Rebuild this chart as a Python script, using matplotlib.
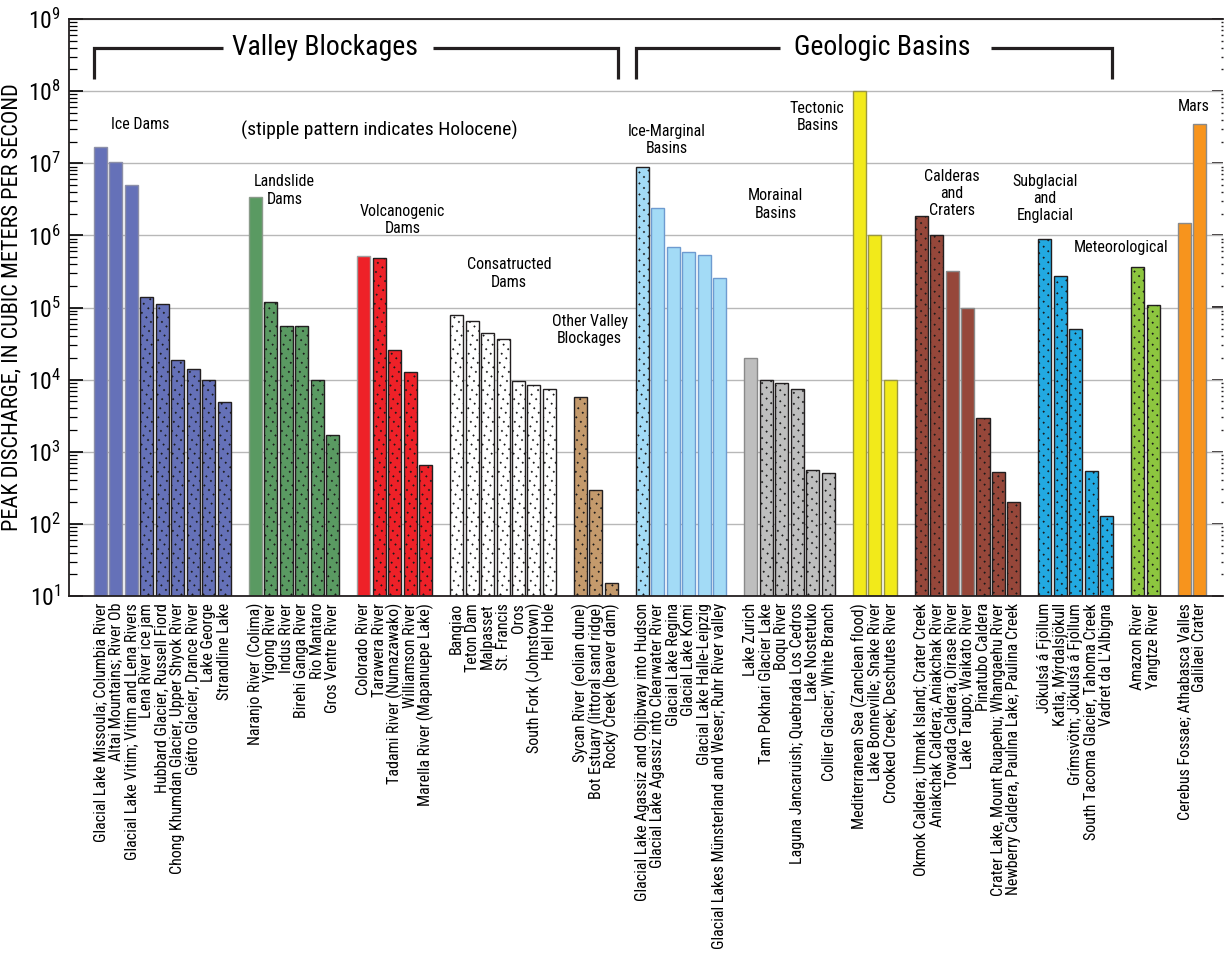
import numpy as np
import matplotlib.pyplot as plt
from matplotlib import font_manager
from matplotlib.collections import LineCollection
from matplotlib.ticker import FixedLocator, FuncFormatter, LogLocator, NullFormatter

# prefer a condensed sans; scale the sizes down if only a normal-width face exists
installed = {f.name for f in font_manager.fontManager.ttflist}
narrow = [n for n in ['Liberation Sans Narrow', 'Roboto Condensed', 'DejaVu Sans Condensed',
                      'Open Sans Condensed', 'Noto Sans Condensed'] if n in installed]
if narrow:
    family, fs = narrow[0], 1.0
else:
    family, fs = 'Liberation Sans', 0.84
plt.rcParams['font.family'] = [family, 'DejaVu Sans']
plt.rcParams['mathtext.fontset'] = 'custom'
plt.rcParams['mathtext.rm'] = family

###
### Data: peak discharge (m3/s), grouped by type of lake / flood source
### stipple flag = Holocene event
###
ice_labels = ["Glacial Lake Missoula; Columbia River", "Altai Mountains; River Ob",
              "Glacial Lake Vitim; Vitim and Lena Rivers", "Lena River ice jam",
              "Hubbard Glacier, Russell Fiord", "Chong Khumdan Glacier, Upper Shyok River",
              "Giétro Glacier, Drance River", "Lake George", "Strandline Lake"]
ice_values = [1.7e7, 1.05e7, 5.0e6, 1.4e5, 1.13e5, 1.9e4, 1.4e4, 1.0e4, 4.9e3]
ice_stipple = [0, 0, 0, 1, 1, 1, 1, 1, 1]

landslide_labels = ["Naranjo River (Colima)", "Yigong River", "Indus River",
                    "Birehi Ganga River", "Rio Mantaro", "Gros Ventre River"]
landslide_values = [3.4e6, 1.18e5, 5.5e4, 5.5e4, 1.0e4, 1.7e3]
landslide_stipple = [0, 1, 1, 1, 1, 1]

volcanic_labels = ["Colorado River", "Tarawera River", "Tadami River (Numazawako)",
                   "Williamson River", "Marella River (Mapanuepe Lake)"]
volcanic_values = [5.2e5, 4.8e5, 2.6e4, 1.27e4, 6.5e2]
volcanic_stipple = [0, 1, 1, 1, 1]

constructed_labels = ["Banqiao", "Teton Dam", "Malpasset", "St. Francis", "Oros",
                      "South Fork (Johnstown)", "Hell Hole"]
constructed_values = [7.8e4, 6.5e4, 4.4e4, 3.7e4, 9.6e3, 8.5e3, 7.4e3]
constructed_stipple = [1, 1, 1, 1, 1, 1, 1]

other_labels = ["Sycan River (eolian dune)", "Bot Estuary (littoral sand ridge)",
                "Rocky Creek (beaver dam)"]
other_values = [5.8e3, 2.95e2, 15]
other_stipple = [1, 1, 1]

marginal_labels = ["Glacial Lake Agassiz and Objibway into Hudson",
                   "Glacial Lake Agassiz into Clearwater River", "Glacial Lake Regina",
                   "Glacial Lake Komi", "Glacial Lake Halle-Leipzig",
                   "Glacial Lakes Münsterland and Weser; Ruhr River valley"]
marginal_values = [8.9e6, 2.4e6, 6.9e5, 5.9e5, 5.4e5, 2.6e5]
marginal_stipple = [1, 0, 0, 0, 0, 0]

morainal_labels = ["Lake Zurich", "Tam Pokhari Glacier Lake", "Boqu River",
                   "Laguna Jancaruish; Quebrada Los Cedros", "Lake Nostetuko",
                   "Collier Glacier; White Branch"]
morainal_values = [2.0e4, 1.0e4, 9.0e3, 7.4e3, 5.6e2, 5.0e2]
morainal_stipple = [0, 1, 1, 1, 1, 1]

tectonic_labels = ["Mediterranean Sea (Zanclean flood)", "Lake Bonneville; Snake River",
                   "Crooked Creek; Deschutes River"]
tectonic_values = [1.0e8, 1.0e6, 1.0e4]
tectonic_stipple = [0, 0, 0]

caldera_labels = ["Okmok Caldera; Umnak Island; Crater Creek",
                  "Aniakchak Caldera; Aniakchak River", "Towada Caldera; Oirase River",
                  "Lake Taupo; Waikato River", "Pinatubo Caldera",
                  "Crater Lake, Mount Ruapehu; Whangaehu River",
                  "Newberry Caldera, Paulina Lake; Paulina Creek"]
caldera_values = [1.87e6, 1.0e6, 3.2e5, 1.0e5, 2.9e3, 5.2e2, 2.0e2]
caldera_stipple = [1, 1, 0, 0, 1, 1, 1]

subglacial_labels = ["Jökulsá á Fjöllum", "Katla; Mýrdalsjökull",
                     "Grímsvötn; Jökulsá á Fjöllum", "South Tacoma Glacier, Tahoma Creek",
                     "Vadret da L'Albigna"]
subglacial_values = [8.9e5, 2.75e5, 5.1e4, 5.4e2, 1.27e2]
subglacial_stipple = [1, 1, 1, 1, 1]

meteo_labels = ["Amazon River", "Yangtze River"]
meteo_values = [3.6e5, 1.07e5]
meteo_stipple = [1, 1]

mars_labels = ["Cerebus Fossae; Athabasca Valles", "Galilaei Crater"]
mars_values = [1.48e6, 3.5e7]
mars_stipple = [0, 0]

groups = [
    {'labels': ice_labels, 'values': ice_values, 'stipple': ice_stipple,
     'color': '#6571B8', 'edge': '#8c8fa8'},
    {'labels': landslide_labels, 'values': landslide_values, 'stipple': landslide_stipple,
     'color': '#5A9A62', 'edge': '#8a9a8a'},
    {'labels': volcanic_labels, 'values': volcanic_values, 'stipple': volcanic_stipple,
     'color': '#EE2128', 'edge': '#a0a0a0'},
    {'labels': constructed_labels, 'values': constructed_values, 'stipple': constructed_stipple,
     'color': 'white', 'edge': '#555555'},
    {'labels': other_labels, 'values': other_values, 'stipple': other_stipple,
     'color': '#C49A6C', 'edge': '#8a7a6a'},
    {'labels': marginal_labels, 'values': marginal_values, 'stipple': marginal_stipple,
     'color': '#A3DBF6', 'edge': '#6E9BD0'},
    {'labels': morainal_labels, 'values': morainal_values, 'stipple': morainal_stipple,
     'color': '#BEBEBE', 'edge': '#8a8a8a'},
    {'labels': tectonic_labels, 'values': tectonic_values, 'stipple': tectonic_stipple,
     'color': '#F2EA1A', 'edge': '#9a9640'},
    {'labels': caldera_labels, 'values': caldera_values, 'stipple': caldera_stipple,
     'color': '#96473A', 'edge': '#8a8a8a'},
    {'labels': subglacial_labels, 'values': subglacial_values, 'stipple': subglacial_stipple,
     'color': '#22A9E1', 'edge': '#8a8a8a'},
    {'labels': meteo_labels, 'values': meteo_values, 'stipple': meteo_stipple,
     'color': '#8DC63F', 'edge': '#8a8a8a'},
    {'labels': mars_labels, 'values': mars_values, 'stipple': mars_stipple,
     'color': '#F7941D', 'edge': '#8a8a8a'},
]

###
### Figure
###
W, H = 1225, 963
fig = plt.figure(figsize=(W / 100, H / 100), dpi=100)
ax = fig.add_axes([69 / W, 1 - 596 / H, (1223 - 69) / W, (596 - 19) / H])
ax.set_yscale('log')
ymin, ymax = 10, 1e9

# diagonal dotted lines (inches) used as the stipple fill, clipped per bar
fw, fh = W / 100, H / 100
cs = np.arange(0, fw + fh, 0.11)
stipple_segs = [[(c, 0), (c - fh, fh)] for c in cs]

positions, ticklabels = [], []
slot = 0
for g in groups:
    xs = np.arange(slot, slot + len(g['values']))
    for x, v, st, lab in zip(xs, g['values'], g['stipple'], g['labels']):
        # bars rise from the bottom of the axis (10 m3/s)
        rect = ax.bar(x, v - ymin, bottom=ymin, width=0.84, color=g['color'],
                      edgecolor='#231F20' if st else g['edge'],
                      linewidth=1.0, zorder=2)[0]
        if st:
            lc = LineCollection(stipple_segs, transform=fig.dpi_scale_trans,
                                colors='#1a1a1a', linewidths=1.25,
                                linestyles=[(0, (1.0, 2.7))], zorder=3)
            ax.add_collection(lc, autolim=False)
            lc.set_clip_path(rect)
        positions.append(x)
        ticklabels.append(lab)
    slot += len(g['values']) + 1

ax.set_xlim(-2.03, 72.5)
ax.set_ylim(ymin, ymax)

ax.set_xticks(positions)
ax.set_xticklabels(ticklabels, rotation=90, fontsize=11.5 * fs, va='top', ha='center')
ax.tick_params(axis='x', length=0, pad=5)

decades = [10.0 ** k for k in range(1, 10)]
decade_fmt = FuncFormatter(lambda v, p: r'$\mathregular{10^{%d}}$' % round(np.log10(v)))
ax.yaxis.set_major_locator(FixedLocator(decades))
ax.yaxis.set_major_formatter(decade_fmt)
ax.yaxis.set_minor_locator(LogLocator(base=10, subs=np.arange(2, 10), numticks=20))
ax.yaxis.set_minor_formatter(NullFormatter())
ax.tick_params(axis='y', which='major', direction='in', length=10, width=1.2,
               labelsize=17 * fs, pad=6)
ax.tick_params(axis='y', which='minor', direction='in', length=6, width=0.9)
ax.grid(axis='y', which='major', color='#b8b8b8', lw=1.0, zorder=0)
ax.set_axisbelow(True)

# right side: short inward ticks, no spine
rax = ax.secondary_yaxis('right')
rax.yaxis.set_major_locator(FixedLocator(decades))
rax.yaxis.set_minor_locator(LogLocator(base=10, subs=np.arange(2, 10), numticks=20))
rax.yaxis.set_major_formatter(FuncFormatter(lambda v, p: ''))
rax.yaxis.set_minor_formatter(NullFormatter())
rax.tick_params(which='major', direction='in', length=8, width=1.3, colors='#231F20')
rax.tick_params(which='minor', direction='in', length=1.5, width=1.0, colors='#231F20')
rax.spines['right'].set_visible(False)

ax.spines['right'].set_visible(False)
for s in ['left', 'bottom', 'top']:
    ax.spines[s].set_linewidth(1.3)
    ax.spines[s].set_color('#231F20')

ax.set_ylabel('PEAK DISCHARGE, IN CUBIC METERS PER SECOND', fontsize=16 * fs, labelpad=4)

# group headers with brackets
ylo, yhi = 10 ** 8.17, 10 ** 8.6
bk = dict(color='#231F20', lw=2.3, solid_capstyle='butt', solid_joinstyle='miter', zorder=4)
ax.plot([-0.42, -0.42, 7.9], [ylo, yhi, yhi], **bk)
ax.plot([21.5, 33.45, 33.45], [yhi, yhi, ylo], **bk)
ax.plot([34.6, 34.6, 43.9], [ylo, yhi, yhi], **bk)
ax.plot([57.5, 65.35, 65.35], [yhi, yhi, ylo], **bk)
ax.text(14.5, yhi, 'Valley Blockages', fontsize=20 * fs, ha='center', va='center', zorder=4)
ax.text(50.5, yhi, 'Geologic Basins', fontsize=20 * fs, ha='center', va='center', zorder=4)

ax.text(18.0, 10 ** 7.46, '(stipple pattern indicates Holocene)', fontsize=14 * fs,
        ha='center', va='center')

# category captions
captions = [
    (2.55, 7.54, 'Ice Dams'),
    (11.9, 6.62, 'Landslide\nDams'),
    (19.5, 6.21, 'Volcanogenic\nDams'),
    (26.4, 5.47, 'Consatructed\nDams'),
    (31.6, 4.69, 'Other Valley\nBlockages'),
    (36.6, 7.32, 'Ice-Marginal\nBasins'),
    (43.6, 6.43, 'Morainal\nBasins'),
    (46.3, 7.64, 'Tectonic\nBasins'),
    (55.0, 6.58, 'Calderas\nand\nCraters'),
    (61.0, 6.51, 'Subglacial\nand\nEnglacial'),
    (65.9, 5.83, 'Meteorological'),
    (70.6, 7.79, 'Mars'),
]
for x, ly, txt in captions:
    ax.text(x, 10 ** ly, txt, fontsize=11.5 * fs, ha='center', va='center',
            linespacing=1.2, zorder=4)

fig.savefig('out.png', dpi=100)
